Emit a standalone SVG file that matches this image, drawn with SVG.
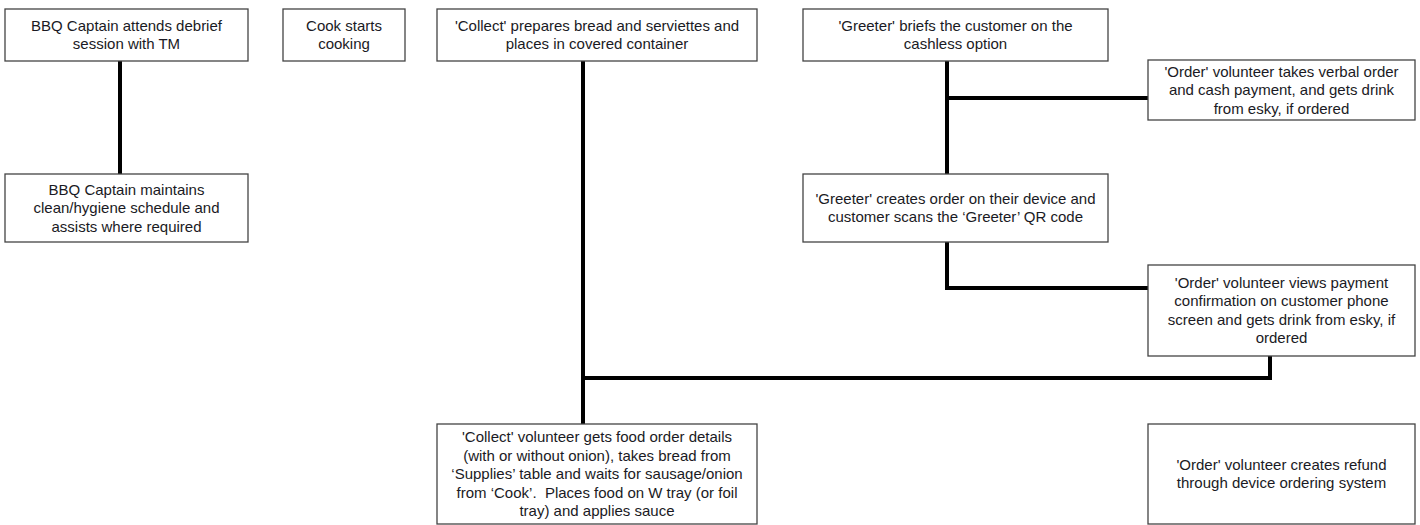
<svg xmlns="http://www.w3.org/2000/svg" width="1420" height="525" viewBox="0 0 1420 525">
<style>
.box{fill:#fff;stroke:#444;stroke-width:1.3}
.t{font-family:"Liberation Sans",Arial,sans-serif;font-size:15px;fill:#1a1a24;text-anchor:middle;white-space:pre}
.c{fill:none;stroke:#000;stroke-width:4;stroke-linecap:butt;stroke-linejoin:miter}
</style>
<rect width="1420" height="525" fill="#fff"/>
<g id="connectors">
<path class="c" d="M120,61 V174"/>
<path class="c" d="M947,61 V174 M947,98 H1148"/>
<path class="c" d="M947,242 V288 H1148"/>
<path class="c" d="M583,61 V424 M583,378 H1270 V356"/>
</g>
<g id="n1"><rect class="box" x="5" y="9" width="243" height="52"/>
<text class="t"><tspan x="126.5" y="30.5">BBQ Captain attends debrief</tspan><tspan x="126.5" y="49">session with TM</tspan></text></g>
<g id="n2"><rect class="box" x="5" y="174" width="243" height="68"/>
<text class="t"><tspan x="126.5" y="194.5">BBQ Captain maintains</tspan><tspan x="126.5" y="213">clean/hygiene schedule and</tspan><tspan x="126.5" y="231.5">assists where required</tspan></text></g>
<g id="n3"><rect class="box" x="283" y="9" width="122" height="52"/>
<text class="t"><tspan x="344" y="30.5">Cook starts</tspan><tspan x="344" y="49">cooking</tspan></text></g>
<g id="n4"><rect class="box" x="437" y="9" width="320" height="52"/>
<text class="t"><tspan x="597" y="30.5">'Collect' prepares bread and serviettes and</tspan><tspan x="597" y="49">places in covered container</tspan></text></g>
<g id="n5"><rect class="box" x="803" y="9" width="305" height="52"/>
<text class="t"><tspan x="955.5" y="30.5">'Greeter' briefs the customer on the</tspan><tspan x="955.5" y="49">cashless option</tspan></text></g>
<g id="n6"><rect class="box" x="1148" y="60" width="267" height="60"/>
<text class="t"><tspan x="1281.5" y="76.5">'Order' volunteer takes verbal order</tspan><tspan x="1281.5" y="95">and cash payment, and gets drink</tspan><tspan x="1281.5" y="113.5">from esky, if ordered</tspan></text></g>
<g id="n7"><rect class="box" x="803" y="174" width="305" height="68"/>
<text class="t"><tspan x="955.5" y="203.75">'Greeter' creates order on their device and</tspan><tspan x="955.5" y="222.25">customer scans the ‘Greeter’ QR code</tspan></text></g>
<g id="n8"><rect class="box" x="1148" y="265" width="267" height="91"/>
<text class="t"><tspan x="1281.5" y="287.75">'Order' volunteer views payment</tspan><tspan x="1281.5" y="306.25">confirmation on customer phone</tspan><tspan x="1281.5" y="324.75">screen and gets drink from esky, if</tspan><tspan x="1281.5" y="343.25">ordered</tspan></text></g>
<g id="n9"><rect class="box" x="437" y="424" width="320" height="100"/>
<text class="t"><tspan x="597" y="442">'Collect' volunteer gets food order details</tspan><tspan x="597" y="460.5">(with or without onion), takes bread from</tspan><tspan x="597" y="479">‘Supplies’ table and waits for sausage/onion</tspan><tspan x="597" y="497.5">from ‘Cook’.&#160; Places food on W tray (or foil</tspan><tspan x="597" y="516">tray) and applies sauce</tspan></text></g>
<g id="n10"><rect class="box" x="1148" y="424" width="267" height="100"/>
<text class="t"><tspan x="1281.5" y="469.75">'Order' volunteer creates refund</tspan><tspan x="1281.5" y="488.25">through device ordering system</tspan></text></g>
</svg>
